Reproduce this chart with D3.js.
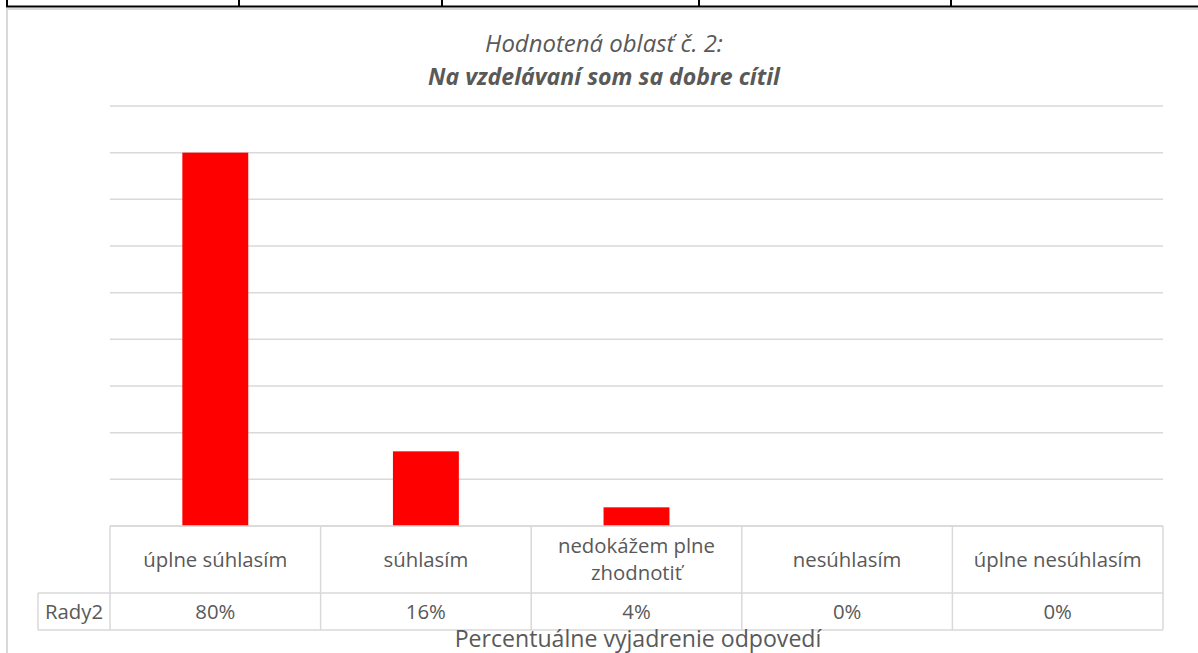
<!DOCTYPE html>
<html>
<head>
<meta charset="utf-8">
<script src="https://cdn.jsdelivr.net/npm/d3@7"></script>
<style>
  body { margin: 0; background: #fff; }
  svg { display: block; font-family: "Open Sans", Lato, sans-serif; }
</style>
</head>
<body>
<div class="canvas"></div>
<script>
// chart data
const categories = ["úplne súhlasím", "súhlasím", "nedokážem plne zhodnotiť", "nesúhlasím", "úplne nesúhlasím"];
const values = [0.80, 0.16, 0.04, 0, 0];
const valueLabels = ["80%", "16%", "4%", "0%", "0%"];
const seriesName = "Rady2";
const gridTicks = [0, 0.1, 0.2, 0.3, 0.4, 0.5, 0.6, 0.7, 0.8, 0.9];
const titleLine1 = "Hodnotená oblasť č. 2:";
const titleLine2 = "Na vzdelávaní som sa dobre cítil";
const axisTitle = "Percentuálne vyjadrenie odpovedí";
// the table cells of the page above the chart
const pageCells = [7, 239, 442, 699, 951];

const dims = { width: 1198, height: 653 };
const plot = { left: 110, right: 1163, top: 106, bottom: 526 };
const table = { top: 526, mid: 593, bottom: 630, legendLeft: 38 };
const grey = "#d9d9d9";
const textCol = "#595959";

const svg = d3.select('.canvas').append('svg')
  .attr('width', dims.width)
  .attr('height', dims.height);

// scale a text so its width matches what the picture shows
function fit(t, w) {
  const fs = +t.attr('font-size');
  t.attr('font-size', fs * w / t.node().getComputedTextLength());
  return t;
}

// page table above the chart
svg.append('line')
  .attr('x1', 6).attr('x2', dims.width).attr('y1', 6.5).attr('y2', 6.5)
  .attr('stroke', '#000').attr('stroke-width', 2);
svg.selectAll('.pagecell').data(pageCells).enter().append('line')
  .attr('class', 'pagecell')
  .attr('x1', d => d).attr('x2', d => d)
  .attr('y1', 0).attr('y2', 7)
  .attr('stroke', '#000').attr('stroke-width', 2);

// chart area border
svg.append('path')
  .attr('d', `M7,${dims.height} V9 H${dims.width}`)
  .attr('fill', 'none').attr('stroke', grey).attr('stroke-width', 2);

// scales
const x = d3.scaleBand().domain(categories).range([plot.left, plot.right]);
const y = d3.scaleLinear().domain([0, 0.9]).range([plot.bottom, plot.top]);
const barW = x.bandwidth() * 0.313;

// gridlines
svg.append('g').selectAll('line').data(gridTicks).enter().append('line')
  .attr('x1', plot.left).attr('x2', plot.right)
  .attr('y1', d => y(d)).attr('y2', d => y(d))
  .attr('stroke', grey).attr('stroke-width', 1.5);

// bars
svg.append('g').selectAll('rect').data(values).enter().append('rect')
  .attr('x', (d, i) => x(categories[i]) + x.bandwidth() / 2 - barW / 2)
  .attr('width', barW)
  .attr('y', d => y(d))
  .attr('height', d => y(0) - y(d))
  .attr('fill', '#ff0000');

// data table
const tg = svg.append('g').attr('stroke', grey).attr('stroke-width', 1.5).attr('fill', 'none');
tg.append('line').attr('x1', plot.left).attr('x2', plot.right).attr('y1', table.top).attr('y2', table.top);
tg.append('line').attr('x1', table.legendLeft).attr('x2', plot.right).attr('y1', table.mid).attr('y2', table.mid);
tg.append('line').attr('x1', table.legendLeft).attr('x2', plot.right).attr('y1', table.bottom).attr('y2', table.bottom);
tg.append('line').attr('x1', table.legendLeft).attr('x2', table.legendLeft).attr('y1', table.mid).attr('y2', table.bottom);
const colEdges = categories.map(c => x(c)).concat([plot.right]);
tg.selectAll('.col').data(colEdges).enter().append('line')
  .attr('x1', d => d).attr('x2', d => d)
  .attr('y1', table.top).attr('y2', table.bottom);

// table font size, matched on the first header
const probe = fit(svg.append('text').attr('font-size', 19).text(categories[0]), 144);
const tableFs = +probe.attr('font-size');
probe.remove();

// category labels, wrapped to the column
const headG = svg.append('g').attr('fill', textCol).attr('font-size', tableFs).attr('text-anchor', 'middle');
categories.forEach(c => {
  const t = headG.append('text').attr('x', x(c) + x.bandwidth() / 2);
  const words = c.split(' ');
  let lines = [], cur = [];
  words.forEach(w => {
    cur.push(w);
    t.text(cur.join(' '));
    if (t.node().getComputedTextLength() > x.bandwidth() - 30 && cur.length > 1) {
      cur.pop(); lines.push(cur.join(' ')); cur = [w];
    }
  });
  lines.push(cur.join(' '));
  t.text(null);
  const mid = (table.top + table.mid) / 2;
  const lh = 27;
  lines.forEach((l, i) => {
    t.append('tspan').attr('x', x(c) + x.bandwidth() / 2)
      .attr('y', mid + 7 + (i - (lines.length - 1) / 2) * lh)
      .text(l);
  });
});

// value row
const valG = svg.append('g').attr('fill', textCol).attr('font-size', tableFs).attr('text-anchor', 'middle');
valG.selectAll('text').data(valueLabels).enter().append('text')
  .attr('x', (d, i) => x(categories[i]) + x.bandwidth() / 2)
  .attr('y', (table.mid + table.bottom) / 2 + 7)
  .text(d => d);
valG.append('text')
  .attr('x', (table.legendLeft + plot.left) / 2)
  .attr('y', (table.mid + table.bottom) / 2 + 7)
  .text(seriesName);

// titles
fit(svg.append('text')
  .attr('x', 604).attr('y', 52)
  .attr('text-anchor', 'middle').attr('fill', textCol)
  .attr('font-size', 22).attr('font-style', 'italic')
  .text(titleLine1), 238);
fit(svg.append('text')
  .attr('x', 604).attr('y', 85)
  .attr('text-anchor', 'middle').attr('fill', textCol)
  .attr('font-size', 22).attr('font-style', 'italic').attr('font-weight', 'bold')
  .text(titleLine2), 352);

fit(svg.append('text')
  .attr('x', 638).attr('y', 647)
  .attr('text-anchor', 'middle').attr('fill', textCol)
  .attr('font-size', 22)
  .text(axisTitle), 367);
</script>
</body>
</html>
